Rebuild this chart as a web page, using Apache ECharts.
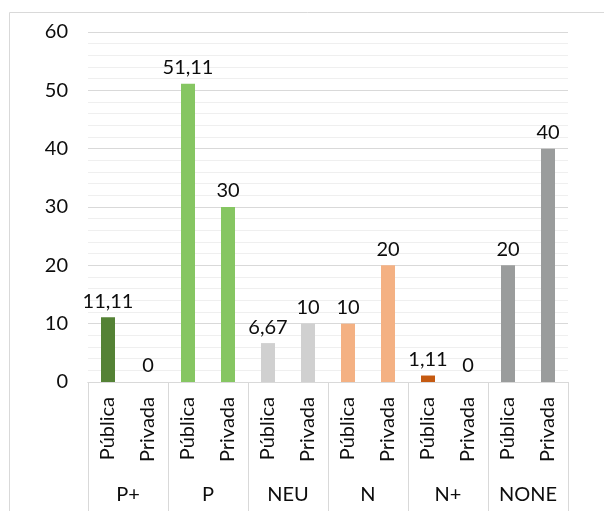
<!DOCTYPE html>
<html>
<head>
<meta charset="utf-8">
<script src="https://cdn.jsdelivr.net/npm/echarts@6/dist/echarts.min.js"></script>
<style>html,body{margin:0;padding:0;background:#fff}#c{width:604px;height:511px}</style>
</head>
<body>
<div id="c"></div>
<script>
const groups = ['P+', 'P', 'NEU', 'N', 'N+', 'NONE'];
const subCategories = ['Pública', 'Privada'];
const publica = [11.11, 51.11, 6.67, 10, 1.11, 20];
const privada = [0, 30, 10, 20, 0, 40];
const groupColors = ['#548235', '#86c662', '#d0d0d0', '#f4b183', '#c55a11', '#9a9c9c'];
const yTicks = [0, 10, 20, 30, 40, 50, 60];

const cats = [];
const vals = [];
groups.forEach((g, i) => {
  cats.push(subCategories[0]); vals.push({ value: publica[i], itemStyle: { color: groupColors[i] } });
  cats.push(subCategories[1]); vals.push({ value: privada[i], itemStyle: { color: groupColors[i] } });
});

const font = 'Lato';
const fs = 20;
const chart = echarts.init(document.getElementById('c'));
chart.setOption({
  animation: false,
  textStyle: { fontFamily: font },
  graphic: [{
    type: 'rect', left: 7, top: 10, shape: { width: 640, height: 560 },
    style: { fill: 'none', stroke: '#d9d9d9', lineWidth: 1 }, silent: true, z: -10
  }],
  grid: { left: 88, right: 36, top: 32, bottom: 129 },
  xAxis: [{
    type: 'category', data: cats, position: 'bottom',
    axisLine: { show: true, lineStyle: { color: '#d9d9d9' } },
    axisTick: { show: false },
    axisLabel: { rotate: 90, margin: 15, fontSize: fs, color: '#0d0d0d', fontFamily: font }
  }, {
    type: 'category', data: groups, position: 'bottom',
    axisLine: { show: true, lineStyle: { color: '#d9d9d9' } },
    axisTick: { show: true, length: 135, lineStyle: { color: '#d9d9d9' } },
    axisLabel: { margin: 103, fontSize: fs, color: '#0d0d0d', fontFamily: font }
  }],
  yAxis: {
    type: 'value', min: yTicks[0], max: yTicks[yTicks.length - 1], interval: 10,
    axisLine: { show: false }, axisTick: { show: false },
    axisLabel: { fontSize: fs, color: '#0d0d0d', margin: 20, fontFamily: font },
    splitLine: { lineStyle: { color: '#d9d9d9' } },
    minorTick: { show: false, splitNumber: 5 },
    minorSplitLine: { show: true, lineStyle: { color: '#efefef' } }
  },
  series: [{
    type: 'bar', xAxisIndex: 0, data: vals, barWidth: 14,
    label: {
      show: true, position: 'top', distance: 6, fontSize: fs, color: '#0d0d0d', fontFamily: font,
      formatter: p => String(p.value).replace('.', ',')
    }
  }]
});
</script>
</body>
</html>
